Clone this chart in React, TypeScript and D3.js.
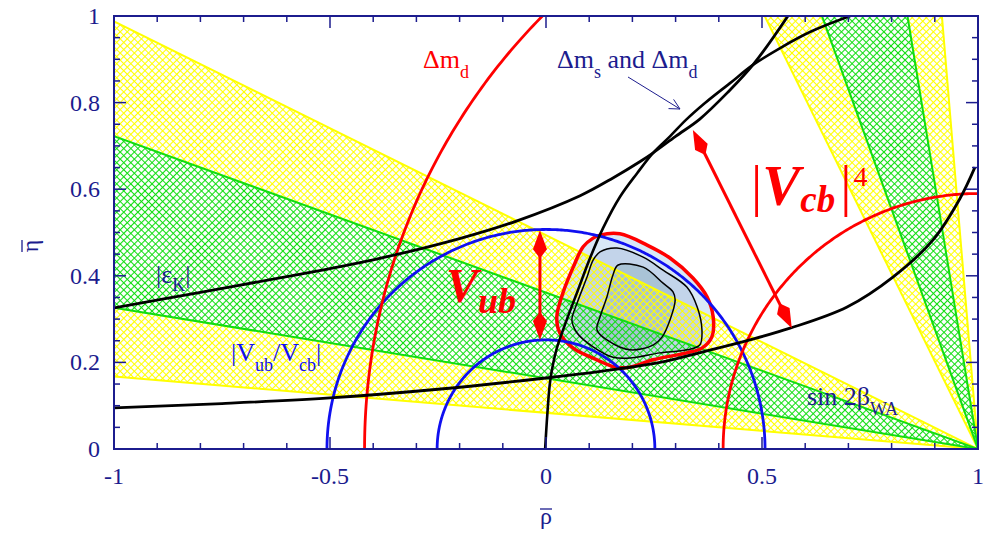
import React from 'react';
import * as d3 from 'd3';

type Pt = [number, number];

// Axis tick labels
const xTickLabels = [-1, -0.5, 0, 0.5, 1];
const yTickLabels = [0, 0.2, 0.4, 0.6, 0.8, 1];

// sin 2β constraint: inner (green) and outer (yellow) bands
const sin2BetaGreen = [0.318, 0.639];
const sin2BetaYellow = [0.166, 0.794];

// |Vub/Vcb| circles about (0,0)
const vubVcbRadii = [0.252, 0.507];
// Δm_d circles about (1,0)
const deltaMdRadii = [0.59, 1.42];

// |εK| hyperbolas
const epsKUpper: Pt[] = [
  [-1.0, 0.326], [-0.8, 0.362], [-0.6, 0.398], [-0.4, 0.437], [-0.2, 0.486],
  [-0.067, 0.527], [0.079, 0.585], [0.155, 0.626], [0.218, 0.664], [0.248, 0.684],
  [0.3, 0.722], [0.356, 0.762], [0.42, 0.823], [0.479, 0.887], [0.56, 1.0], [0.585, 1.04],
];
const epsKLower: Pt[] = [
  [-1.0, 0.095], [-0.75, 0.105], [-0.5, 0.118], [-0.25, 0.138], [0.0, 0.164],
  [0.13, 0.18], [0.264, 0.2], [0.37, 0.226], [0.472, 0.252], [0.565, 0.279],
  [0.697, 0.328], [0.803, 0.397], [0.896, 0.483], [0.958, 0.578], [0.993, 0.651],
];
// Δm_s and Δm_d combined curve
const deltaMsMd: Pt[] = [
  [-0.002, 0.0], [0.003, 0.079], [0.01, 0.159], [0.024, 0.229], [0.046, 0.293],
  [0.074, 0.367], [0.102, 0.441], [0.132, 0.51], [0.171, 0.582], [0.211, 0.637],
  [0.248, 0.684], [0.287, 0.722], [0.324, 0.76], [0.368, 0.799], [0.426, 0.845],
  [0.479, 0.887], [0.542, 0.926], [0.611, 0.963], [0.704, 1.0], [0.76, 1.018],
];

// Fit contours (outer → inner)
const contourOuter: Pt[] = [
  [0.125, 0.494], [0.171, 0.497], [0.234, 0.471], [0.287, 0.441], [0.34, 0.395],
  [0.373, 0.351], [0.387, 0.305], [0.384, 0.259], [0.361, 0.233], [0.326, 0.222],
  [0.248, 0.206], [0.194, 0.189], [0.16, 0.189], [0.118, 0.206], [0.063, 0.233],
  [0.032, 0.268], [0.025, 0.305], [0.039, 0.36], [0.063, 0.42], [0.086, 0.467], [0.109, 0.487],
];
const contourMid: Pt[] = [
  [0.125, 0.455], [0.164, 0.464], [0.225, 0.443], [0.271, 0.413], [0.326, 0.374],
  [0.35, 0.328], [0.361, 0.275], [0.356, 0.24], [0.326, 0.229], [0.264, 0.222],
  [0.194, 0.21], [0.155, 0.212], [0.109, 0.236], [0.072, 0.268], [0.06, 0.298],
  [0.072, 0.337], [0.095, 0.397], [0.109, 0.436],
];
const contourInner: Pt[] = [
  [0.167, 0.425], [0.225, 0.42], [0.271, 0.383], [0.294, 0.363], [0.299, 0.344],
  [0.287, 0.298], [0.269, 0.259], [0.248, 0.24], [0.194, 0.229], [0.141, 0.252],
  [0.118, 0.275], [0.125, 0.305], [0.141, 0.351], [0.155, 0.402],
];

// Double-headed arrows (ρ, η endpoints)
const vubArrow: Pt[] = [[-0.014, 0.505], [-0.014, 0.252]];
const vcbArrow: Pt[] = [[0.34, 0.737], [0.569, 0.279]];

const NAVY = '#1c1c8e';
const RED = '#ff0000';
const BLUE = '#1010f0';
const GREEN = '#11dd11';
const YELLOW = '#ffff00';
const FONT = "'Liberation Serif', 'Times New Roman', Times, serif";

export default function App() {
  const x = d3.scaleLinear().domain([-1, 1]).range([114, 978]);
  const y = d3.scaleLinear().domain([0, 1]).range([449, 16]);

  const straight = d3.line<Pt>().x((d) => x(d[0])).y((d) => y(d[1]));
  const smooth = d3
    .line<Pt>()
    .x((d) => x(d[0]))
    .y((d) => y(d[1]))
    .curve(d3.curveCatmullRom.alpha(0.5));
  const closed = d3
    .line<Pt>()
    .x((d) => x(d[0]))
    .y((d) => y(d[1]))
    .curve(d3.curveCatmullRomClosed.alpha(0.5));

  const tanBeta = (s: number) => Math.tan(Math.asin(s) / 2);
  const wedge = (band: number[], upper: boolean): Pt[] => {
    const [ta, tb] = band.map(tanBeta);
    return upper
      ? [[1, 0], [1 - 1.2 * ta, 1.2], [1 - 1.2 * tb, 1.2]]
      : [[1, 0], [-1, 2 * ta], [-1, 2 * tb]];
  };
  const edges = (band: number[]): Pt[][] =>
    band.map(tanBeta).flatMap((t) => [
      [[1, 0], [-1, 2 * t]] as Pt[],
      [[1, 0], [1 - 1.2 * t, 1.2]] as Pt[],
    ]);
  const poly = (p: Pt[]) => straight(p) + 'Z';

  const yellowPath =
    poly(wedge(sin2BetaYellow, false)) + poly(wedge(sin2BetaGreen, false)) +
    poly(wedge(sin2BetaYellow, true)) + poly(wedge(sin2BetaGreen, true));
  const greenPath = poly(wedge(sin2BetaGreen, false)) + poly(wedge(sin2BetaGreen, true));

  const arc = (cx: number, r: number): Pt[] =>
    d3.range(0, 361).map((i) => {
      const a = (i * Math.PI) / 360;
      return [cx + r * Math.cos(a), r * Math.sin(a)] as Pt;
    });

  const arrowPaths = (pts: Pt[]) => {
    const [a, b] = pts.map((p) => [x(p[0]), y(p[1])]);
    const dx = b[0] - a[0], dy = b[1] - a[1];
    const L = Math.hypot(dx, dy);
    const ux = dx / L, uy = dy / L;
    const nx = -uy, ny = ux;
    const head = (tx: number, ty: number, sx: number, sy: number) => {
      const p1 = [tx + sx * 19 + nx * 7, ty + sy * 19 + ny * 7];
      const p2 = [tx + sx * 28, ty + sy * 28];
      const p3 = [tx + sx * 19 - nx * 7, ty + sy * 19 - ny * 7];
      return `M${tx},${ty}L${p1[0]},${p1[1]}L${p2[0]},${p2[1]}L${p3[0]},${p3[1]}Z`;
    };
    return {
      shaft: `M${a[0] + ux * 20},${a[1] + uy * 20}L${b[0] - ux * 20},${b[1] - uy * 20}`,
      heads: head(a[0], a[1], ux, uy) + head(b[0], b[1], -ux, -uy),
    };
  };
  const vubA = arrowPaths(vubArrow);
  const vcbA = arrowPaths(vcbArrow);

  const xTicks = d3.range(-10, 11).map((i) => i / 10);
  const yTicks = d3.range(0, 21).map((i) => i / 20);
  const isMajorX = (v: number) => Math.abs(v * 2 - Math.round(v * 2)) < 1e-6;
  const isMajorY = (v: number) => Math.abs(v * 5 - Math.round(v * 5)) < 1e-6;

  const [x0, x1] = x.range();
  const [yb, yt] = y.range();

  return (
    <svg
      width={990}
      height={536}
      style={{ position: 'absolute', left: 0, top: 0, background: '#fff' }}
      fontFamily={FONT}
    >
      <defs>
        <clipPath id="plotClip">
          <rect x={x0} y={yt} width={x1 - x0} height={yb - yt} />
        </clipPath>
        <pattern id="hatchYellow" width={5} height={5} patternUnits="userSpaceOnUse" patternTransform="rotate(45)">
          <path d="M0,2.5H5M2.5,0V5" stroke={YELLOW} strokeWidth={1.1} />
        </pattern>
        <pattern id="hatchGreen" width={5} height={5} patternUnits="userSpaceOnUse" patternTransform="rotate(45)">
          <path d="M0,2.5H5M2.5,0V5" stroke={GREEN} strokeWidth={1.1} />
        </pattern>
      </defs>

      <g clipPath="url(#plotClip)">
        {/* fit contour fills */}
        <path d={closed(contourOuter)!} fill="#d9e8f6" />
        <path d={closed(contourMid)!} fill="#c3d4ea" />
        <path d={closed(contourInner)!} fill="#a9c3d6" />

        {/* sin 2β bands */}
        <path d={yellowPath} fill="url(#hatchYellow)" fillRule="evenodd" />
        <path d={greenPath} fill="url(#hatchGreen)" />
        {edges(sin2BetaYellow).map((e, i) => (
          <path key={'ye' + i} d={straight(e)!} stroke={YELLOW} strokeWidth={2} fill="none" />
        ))}
        {edges(sin2BetaGreen).map((e, i) => (
          <path key={'ge' + i} d={straight(e)!} stroke={GREEN} strokeWidth={2} fill="none" />
        ))}

        {/* contour outlines */}
        <path d={closed(contourOuter)!} fill="none" stroke={RED} strokeWidth={3.5} />
        <path d={closed(contourMid)!} fill="none" stroke="#000" strokeWidth={1.5} />
        <path d={closed(contourInner)!} fill="none" stroke="#000" strokeWidth={1.5} />

        {/* |Vub/Vcb| */}
        {vubVcbRadii.map((r) => (
          <path key={'b' + r} d={straight(arc(0, r))!} fill="none" stroke={BLUE} strokeWidth={2.8} />
        ))}
        {/* Δm_d */}
        {deltaMdRadii.map((r) => (
          <path key={'r' + r} d={straight(arc(1, r))!} fill="none" stroke={RED} strokeWidth={2.8} />
        ))}
        {/* |εK| and Δm_s/Δm_d */}
        <path d={smooth(epsKUpper)!} fill="none" stroke="#000" strokeWidth={2.8} />
        <path d={smooth(epsKLower)!} fill="none" stroke="#000" strokeWidth={2.8} />
        <path d={smooth(deltaMsMd)!} fill="none" stroke="#000" strokeWidth={2.6} />
      </g>

      {/* double-headed arrows */}
      <path d={vubA.shaft} stroke={RED} strokeWidth={3} />
      <path d={vubA.heads} fill={RED} />
      <path d={vcbA.shaft} stroke={RED} strokeWidth={3} />
      <path d={vcbA.heads} fill={RED} />

      {/* pointer to the Δm_s / Δm_d curves */}
      <path d="M628,77L680,109" stroke={NAVY} strokeWidth={1} fill="none" />
      <path d="M668.5,108.6L680,109L673.6,99.4" stroke={NAVY} strokeWidth={1} fill="none" />

      {/* labels */}
      <text x={423} y={68} fontSize={26} fill={RED}>
        Δm<tspan dy={10} fontSize={18}>d</tspan>
      </text>
      <text x={557} y={68} fontSize={26} fill={NAVY}>
        Δm<tspan dy={10} fontSize={18}>s</tspan>
        <tspan dy={-10}> and Δm</tspan>
        <tspan dy={10} fontSize={18}>d</tspan>
      </text>
      <text x={156} y={283} fontSize={26} fill={NAVY}>
        |ε<tspan dy={8} fontSize={18}>K</tspan>
        <tspan dy={-8}>|</tspan>
      </text>
      <text x={231} y={361} fontSize={26} fill={BLUE}>
        |V<tspan dy={10} fontSize={18}>ub</tspan>
        <tspan dy={-10}>/V</tspan>
        <tspan dy={10} fontSize={18}>cb</tspan>
        <tspan dy={-10}>|</tspan>
      </text>
      <text x={807} y={405} fontSize={26} fill={NAVY}>
        sin 2β<tspan dy={10} fontSize={18}>WA</tspan>
      </text>

      <text x={446} y={302} fill={RED} fontWeight="bold" fontStyle="italic">
        <tspan fontSize={48}>V</tspan>
        <tspan fontSize={36} dy={11}>ub</tspan>
      </text>

      <text x={751} y={205} fill={RED}>
        <tspan fontSize={56}>|</tspan>
        <tspan fontSize={57} fontWeight="bold" fontStyle="italic">V</tspan>
        <tspan fontSize={37} fontWeight="bold" fontStyle="italic" dy={7}>cb</tspan>
        <tspan fontSize={56} dx={5} dy={-7}>|</tspan>
        <tspan fontSize={28} dx={2} dy={-19}>4</tspan>
      </text>

      {/* frame and ticks */}
      <rect x={x0} y={yt} width={x1 - x0} height={yb - yt} fill="none" stroke={NAVY} strokeWidth={2} />
      {xTicks.map((v) => {
        const len = isMajorX(v) ? 12 : 6;
        return (
          <g key={'xt' + v} stroke={NAVY} strokeWidth={1.5}>
            <line x1={x(v)} x2={x(v)} y1={yb} y2={yb - len} />
            <line x1={x(v)} x2={x(v)} y1={yt} y2={yt + len} />
          </g>
        );
      })}
      {yTicks.map((v) => {
        const len = isMajorY(v) ? 12 : 6;
        return (
          <g key={'yt' + v} stroke={NAVY} strokeWidth={1.5}>
            <line x1={x0} x2={x0 + len} y1={y(v)} y2={y(v)} />
            <line x1={x1} x2={x1 - len} y1={y(v)} y2={y(v)} />
          </g>
        );
      })}
      {xTickLabels.map((v) => (
        <text key={'xl' + v} x={x(v)} y={484} fontSize={24} fill={NAVY} textAnchor="middle">
          {String(v)}
        </text>
      ))}
      {yTickLabels.map((v) => (
        <text key={'yl' + v} x={100} y={y(v) + 8} fontSize={24} fill={NAVY} textAnchor="end">
          {String(v)}
        </text>
      ))}

      {/* axis titles */}
      <text x={546} y={524} fontSize={24} fill={NAVY} textAnchor="middle">ρ</text>
      <line x1={540} x2={552} y1={509} y2={509} stroke={NAVY} strokeWidth={1.3} />
      <g transform="translate(38,246) rotate(-90)">
        <text x={0} y={0} fontSize={24} fill={NAVY} textAnchor="middle">η</text>
        <line x1={-6} x2={6} y1={-16} y2={-16} stroke={NAVY} strokeWidth={1.3} />
      </g>
    </svg>
  );
}
